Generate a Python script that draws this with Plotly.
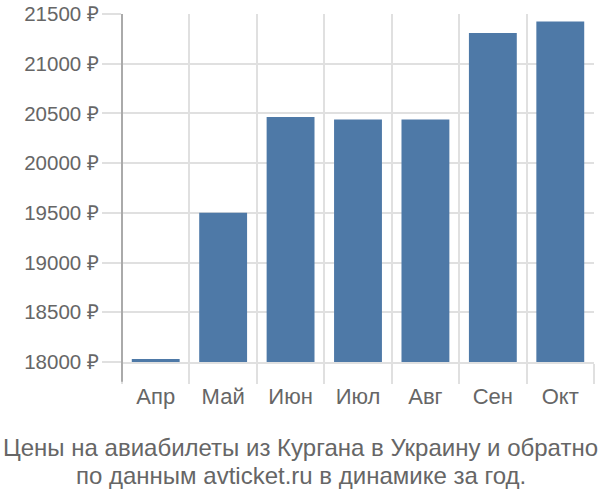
import plotly.graph_objects as go

months = ["Апр", "Май", "Июн", "Июл", "Авг", "Сен", "Окт"]
prices = [18030, 19500, 20465, 20440, 20440, 21310, 21425]
tick_vals = [18000, 18500, 19000, 19500, 20000, 20500, 21000, 21500]
tick_text = [f"{v} ₽" for v in tick_vals]
title_lines = ["Цены на авиабилеты из Кургана в Украину и обратно",
               "по данным avticket.ru в динамике за год."]

FONT = "Liberation Sans, Arial, sans-serif"
GRID = "#e0e0e0"
TXT = "#666666"

fig = go.Figure(go.Bar(x=months, y=prices, marker_color="#4e79a7",
                       marker_line_width=0))

fig.update_layout(
    width=600, height=500,
    margin=dict(l=122, r=6, t=14, b=138),
    plot_bgcolor="white", paper_bgcolor="white",
    bargap=0.29,
    showlegend=False,
    font=dict(family=FONT, size=22, color=TXT),
)
fig.update_xaxes(
    type="category", tickson="boundaries", automargin=False,
    showgrid=True, gridcolor=GRID, gridwidth=2,
    ticks="outside", ticklen=20, tickcolor=GRID, tickwidth=2,
    showline=True, linecolor=GRID, linewidth=2,
    ticklabelstandoff=14,
    tickfont=dict(family=FONT, size=22, color=TXT),
)
fig.update_yaxes(
    range=[18000, 21500], tickvals=tick_vals, ticktext=tick_text,
    automargin=False, ticklabeloverflow="allow",
    showgrid=True, gridcolor=GRID, gridwidth=2,
    ticks="outside", ticklen=19, tickcolor=GRID, tickwidth=2,
    showline=False, zeroline=False, ticklabelstandoff=-1,
    tickfont=dict(family=FONT, size=20.5, color=TXT),
)
fig.add_shape(type="line", xref="x domain", yref="y domain",
              x0=0, x1=0, y0=-0.057, y1=1,
              line=dict(color="#aaaaaa", width=2))
for line, yy in zip(title_lines, [-0.247, -0.325]):
    fig.add_annotation(text=line, xref="paper", yref="paper",
                       x=0.379, xanchor="center", y=yy, yanchor="middle",
                       showarrow=False,
                       font=dict(family=FONT, size=24, color=TXT))

fig.write_html("out.html", config={"displayModeBar": False},
               post_script="document.body.style.margin='0';")
